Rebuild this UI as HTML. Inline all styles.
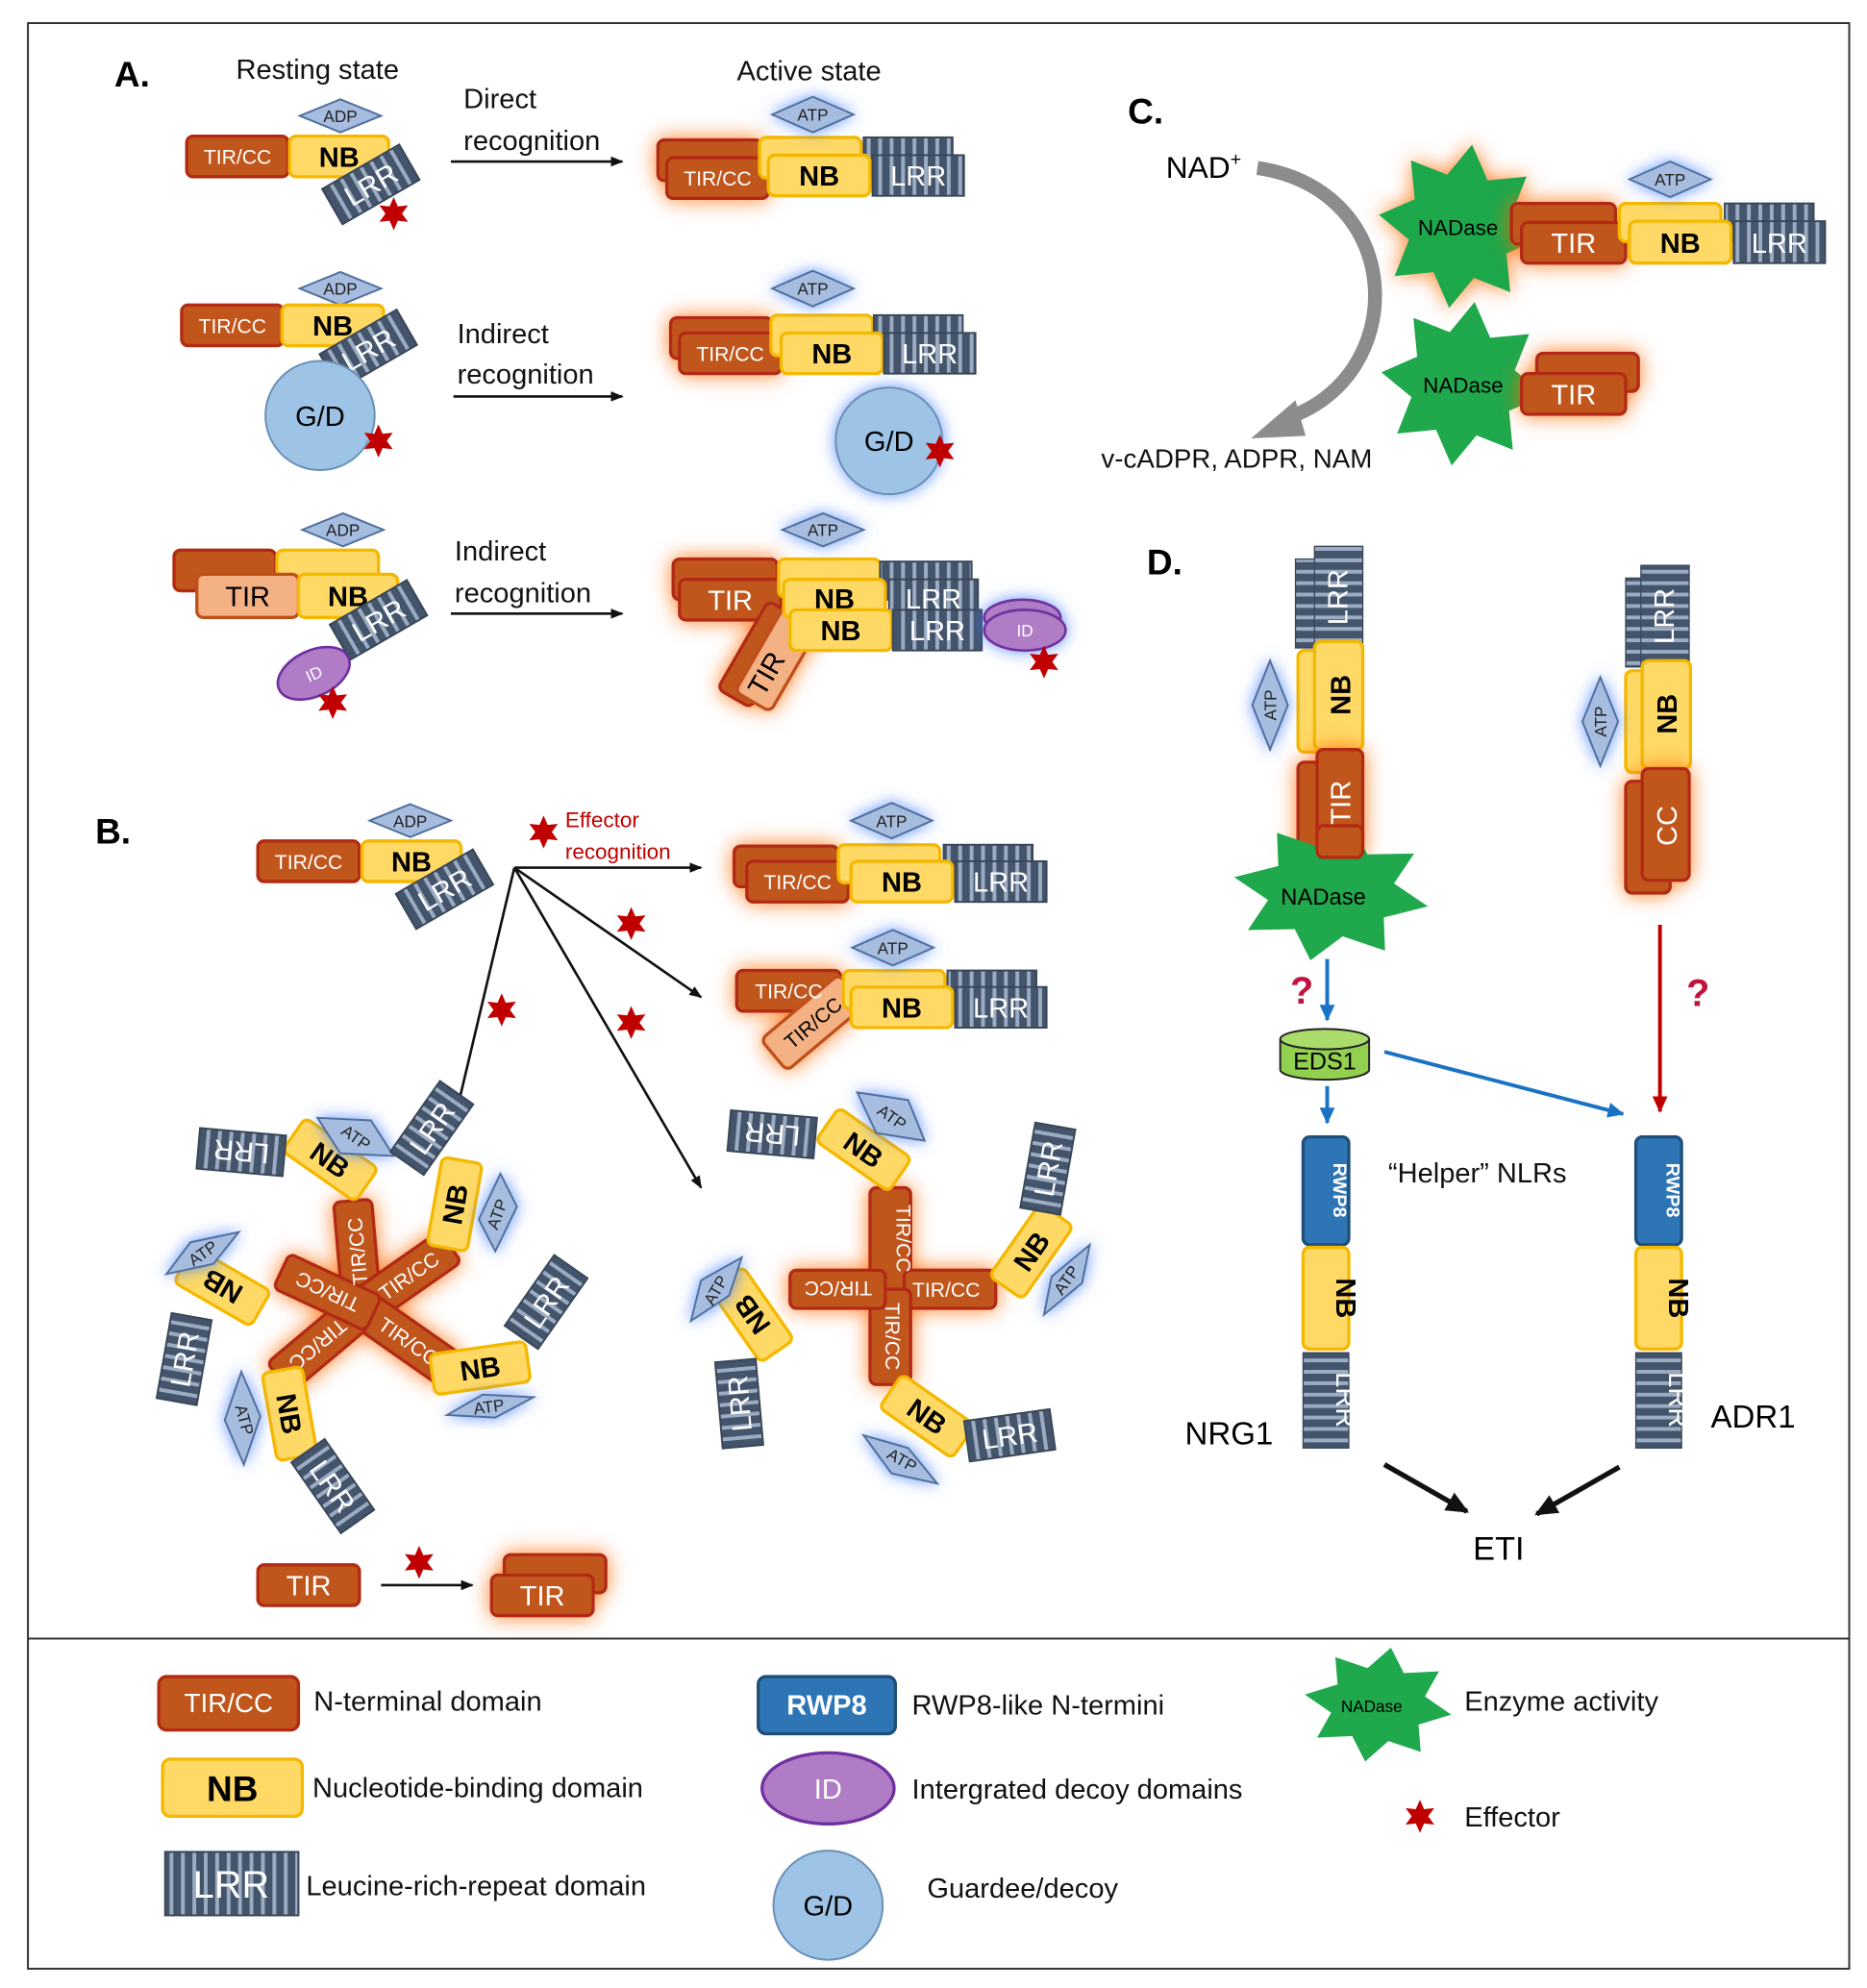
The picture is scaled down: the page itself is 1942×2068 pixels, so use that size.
<!DOCTYPE html>
<html><head><meta charset="utf-8">
<style>
html,body{margin:0;padding:0;background:#fff}
svg{display:block}
text{font-family:"Liberation Sans",sans-serif}
.lb{font-size:22px;fill:#111}
.tc{fill:#c0561c;stroke:#b22a12;stroke-width:2.5}
.tl{fill:#f4b183;stroke:#c0501a;stroke-width:2.5}
.nb{fill:#ffd966;stroke:#f5b800;stroke-width:2.5}
.lrr{fill:url(#lrr);stroke:#3a4658;stroke-width:1.5}
.dm{fill:#a7bde0;stroke:#4f6f9f;stroke-width:1.5}
.rw{fill:#2e75b6;stroke:#1f4e79;stroke-width:2.5}
.tw{fill:#fff;font-size:16px;text-anchor:middle}
.tb{fill:#000;font-size:22px;font-weight:bold;text-anchor:middle}
.tl2{fill:#fff;font-size:22px;text-anchor:middle}
.ts{fill:#222;font-size:13px;text-anchor:middle}
.ar{stroke:#111;stroke-width:2;fill:none;marker-end:url(#ah)}
</style></head>
<body>
<svg width="1942" height="2068" viewBox="0 0 1470 1565" xmlns="http://www.w3.org/2000/svg">
<defs>
<pattern id="lrr" patternUnits="userSpaceOnUse" width="9" height="9">
<rect width="9" height="9" fill="#9aabc2"/><rect x="1.5" width="6" height="9" fill="#44546a"/>
</pattern>
<pattern id="lrrh" patternUnits="userSpaceOnUse" width="9" height="9">
<rect width="9" height="9" fill="#9aabc2"/><rect y="1.5" width="9" height="6" fill="#44546a"/>
</pattern>
<filter id="go" x="-50%" y="-50%" width="200%" height="200%"><feDropShadow dx="0" dy="0" stdDeviation="8" flood-color="#ff6a00" flood-opacity="0.85"/></filter>
<filter id="bl" x="-50%" y="-50%" width="200%" height="200%"><feDropShadow dx="0" dy="0" stdDeviation="6" flood-color="#3d7bff" flood-opacity="0.8"/></filter>
<marker id="ah" markerWidth="10" markerHeight="8" refX="9" refY="4" orient="auto" markerUnits="userSpaceOnUse"><path d="M0,0 L10,4 L0,8 z" fill="#111"/></marker>
<marker id="ahb" markerWidth="14" markerHeight="12" refX="12" refY="6" orient="auto" markerUnits="userSpaceOnUse"><path d="M0,0 L13,6 L0,12 z" fill="#1a72c4"/></marker>
<marker id="ahr" markerWidth="14" markerHeight="12" refX="12" refY="6" orient="auto" markerUnits="userSpaceOnUse"><path d="M0,0 L13,6 L0,12 z" fill="#c00000"/></marker>
<marker id="ahk" markerWidth="20" markerHeight="16" refX="16" refY="8" orient="auto" markerUnits="userSpaceOnUse"><path d="M0,0 L18,8 L0,16 z" fill="#111"/></marker>
<path id="st" d="M0,-13 L3.25,-5.63 L11.26,-6.5 L6.5,0 L11.26,6.5 L3.25,5.63 L0,13 L-3.25,5.63 L-11.26,6.5 L-6.5,0 L-11.26,-6.5 L-3.25,-5.63 z" fill="#c00000"/>
<path id="nad" d="M65,0 L38.8,16.1 L46,46 L16.1,38.8 L0,65 L-16.1,38.8 L-46,46 L-38.8,16.1 L-65,0 L-38.8,-16.1 L-46,-46 L-16.1,-38.8 L0,-65 L16.1,-38.8 L46,-46 L38.8,-16.1 z" fill="#1fa84c"/>
</defs>
<rect width="1470" height="1565" fill="#fff"/>
<rect x="22" y="18" width="1434" height="1532" fill="none" stroke="#333" stroke-width="1.5"/>
<line x1="22" y1="1290" x2="1456" y2="1290" stroke="#333" stroke-width="1.5"/>

<!-- Panel A -->
<text x="90" y="68" font-size="28" font-weight="bold">A.</text>
<text x="250" y="62" class="lb" text-anchor="middle">Resting state</text>
<text x="637" y="63" class="lb" text-anchor="middle">Active state</text>

<polygon class="dm" points="268,78 300,91 268,104 236,91"/><text x="268" y="96" class="ts">ADP</text>
<rect class="tc" x="147" y="107" width="80" height="32" rx="5"/><text x="187" y="129" class="tw">TIR/CC</text>
<rect class="nb" x="228" y="107" width="78" height="32" rx="5"/><text x="267" y="131" class="tb">NB</text>
<g transform="translate(292,145) rotate(-30)"><rect class="lrr" x="-35" y="-16" width="70" height="32"/><text x="0" y="8" class="tl2">LRR</text></g>
<use href="#st" x="310" y="168"/>
<line class="ar" x1="355" y1="127" x2="490" y2="127"/>
<text x="365" y="85" class="lb">Direct</text><text x="365" y="118" class="lb">recognition</text>
<g filter="url(#go)"><rect class="tc" x="518" y="110" width="82" height="32" rx="5"/><rect class="tc" x="525" y="124" width="80" height="32" rx="5"/></g>
<rect class="nb" x="598" y="108" width="80" height="32" rx="5"/><rect class="lrr" x="680" y="108" width="70" height="32"/>
<text x="565" y="146" class="tw">TIR/CC</text>
<rect class="nb" x="605" y="122" width="80" height="32" rx="5"/><text x="645" y="146" class="tb">NB</text>
<rect class="lrr" x="687" y="122" width="72" height="32"/><text x="723" y="146" class="tl2">LRR</text>
<g filter="url(#bl)"><polygon class="dm" points="640,76 672,90 640,104 608,90"/></g><text x="640" y="95" class="ts">ATP</text>

<polygon class="dm" points="268,214 300,227 268,240 236,227"/><text x="268" y="232" class="ts">ADP</text>
<rect class="tc" x="143" y="240" width="80" height="32" rx="5"/><text x="183" y="262" class="tw">TIR/CC</text>
<rect class="nb" x="222" y="240" width="80" height="32" rx="5"/><text x="262" y="264" class="tb">NB</text>
<g transform="translate(290,275) rotate(-30)"><rect class="lrr" x="-35" y="-16" width="70" height="32"/><text x="0" y="8" class="tl2">LRR</text></g>
<circle cx="252" cy="327" r="43" fill="#9dc3e6" stroke="#6b8fb5" stroke-width="1.5"/><text x="252" y="335" font-size="22" text-anchor="middle">G/D</text>
<use href="#st" x="298" y="347"/>
<line class="ar" x1="357" y1="312" x2="490" y2="312"/>
<text x="360" y="270" class="lb">Indirect</text><text x="360" y="302" class="lb">recognition</text>
<g filter="url(#go)"><rect class="tc" x="528" y="250" width="80" height="32" rx="5"/><rect class="tc" x="535" y="262" width="80" height="32" rx="5"/></g>
<rect class="nb" x="607" y="248" width="80" height="32" rx="5"/><rect class="lrr" x="688" y="248" width="70" height="32"/>
<text x="575" y="284" class="tw">TIR/CC</text>
<rect class="nb" x="615" y="262" width="80" height="32" rx="5"/><text x="655" y="286" class="tb">NB</text>
<rect class="lrr" x="696" y="262" width="72" height="32"/><text x="732" y="286" class="tl2">LRR</text>
<g filter="url(#bl)"><polygon class="dm" points="640,213 672,227 640,241 608,227"/></g><text x="640" y="232" class="ts">ATP</text>
<g filter="url(#bl)"><circle cx="700" cy="347" r="42" fill="#9dc3e6" stroke="#6b8fb5" stroke-width="1.5"/></g><text x="700" y="355" font-size="22" text-anchor="middle">G/D</text>
<use href="#st" x="740" y="355"/>

<polygon class="dm" points="270,404 302,417 270,430 238,417"/><text x="270" y="422" class="ts">ADP</text>
<rect class="tc" x="137" y="433" width="80" height="32" rx="5"/><rect class="nb" x="218" y="433" width="80" height="32" rx="5"/>
<rect class="tl" x="155" y="452" width="80" height="34" rx="5"/><text x="195" y="477" class="tb" style="font-weight:normal">TIR</text>
<rect class="nb" x="235" y="452" width="78" height="34" rx="5"/><text x="274" y="477" class="tb">NB</text>
<g transform="translate(298,488) rotate(-30)"><rect class="lrr" x="-35" y="-16" width="70" height="32"/><text x="0" y="8" class="tl2">LRR</text></g>
<g transform="translate(247,530) rotate(-25)"><ellipse rx="30" ry="18" fill="#b07cc6" stroke="#7030a0" stroke-width="2"/><text y="5" class="ts" style="fill:#fff">ID</text></g>
<use href="#st" x="262" y="553"/>
<line class="ar" x1="355" y1="483" x2="490" y2="483"/>
<text x="358" y="441" class="lb">Indirect</text><text x="358" y="474" class="lb">recognition</text>
<g filter="url(#go)"><rect class="tc" x="530" y="440" width="82" height="32" rx="5"/><rect class="tc" x="535" y="456" width="80" height="32" rx="5"/>
<g transform="translate(598,515) rotate(-60)"><rect class="tc" x="-40" y="-15" width="80" height="30" rx="5"/><rect class="tl" x="-35" y="-2" width="80" height="32" rx="5"/></g></g>
<text x="575" y="480" class="tb" style="fill:#fff;font-weight:normal">TIR</text>
<g transform="translate(603,530) rotate(-60)"><text x="0" y="8" class="tb" style="font-weight:normal">TIR</text></g>
<rect class="nb" x="613" y="440" width="80" height="30" rx="5"/><rect class="lrr" x="693" y="442" width="72" height="30"/>
<rect class="nb" x="617" y="456" width="80" height="30" rx="5"/><text x="657" y="479" class="tb">NB</text>
<rect class="lrr" x="700" y="456" width="70" height="30"/><text x="735" y="479" class="tl2">LRR</text>
<rect class="nb" x="622" y="480" width="80" height="32" rx="5"/><text x="662" y="504" class="tb">NB</text>
<rect class="lrr" x="703" y="480" width="70" height="32"/><text x="738" y="504" class="tl2">LRR</text>
<g filter="url(#bl)"><ellipse cx="805" cy="486" rx="30" ry="14" fill="#b07cc6" stroke="#7030a0" stroke-width="2"/><ellipse cx="807" cy="496" rx="32" ry="16" fill="#b07cc6" stroke="#7030a0" stroke-width="2"/></g><text x="807" y="501" class="ts" style="fill:#fff">ID</text>
<use href="#st" x="822" y="521"/>
<g filter="url(#bl)"><polygon class="dm" points="648,404 680,417 648,430 616,417"/></g><text x="648" y="422" class="ts">ATP</text>

<!-- Panel B -->
<text x="75" y="664" font-size="28" font-weight="bold">B.</text>
<polygon class="dm" points="323,633 355,646 323,659 291,646"/><text x="323" y="651" class="ts">ADP</text>
<rect class="tc" x="203" y="662" width="80" height="32" rx="5"/><text x="243" y="684" class="tw">TIR/CC</text>
<rect class="nb" x="285" y="662" width="78" height="32" rx="5"/><text x="324" y="686" class="tb">NB</text>
<g transform="translate(350,700) rotate(-30)"><rect class="lrr" x="-35" y="-16" width="70" height="32"/><text x="0" y="8" class="tl2">LRR</text></g>
<use href="#st" x="428" y="655"/>
<text x="445" y="651" font-size="17" fill="#c00000">Effector</text><text x="445" y="676" font-size="17" fill="#c00000">recognition</text>
<line class="ar" x1="405" y1="683" x2="552" y2="683"/>
<line class="ar" x1="405" y1="683" x2="552" y2="785"/>
<line class="ar" x1="405" y1="683" x2="552" y2="935"/>
<line class="ar" x1="405" y1="683" x2="360" y2="873"/>
<use href="#st" x="497" y="727"/><use href="#st" x="497" y="805"/><use href="#st" x="395" y="795"/>
<g filter="url(#go)"><rect class="tc" x="578" y="666" width="82" height="32" rx="5"/><rect class="tc" x="588" y="678" width="80" height="32" rx="5"/></g>
<rect class="nb" x="660" y="665" width="80" height="30" rx="5"/><rect class="lrr" x="743" y="665" width="70" height="30"/>
<text x="628" y="700" class="tw">TIR/CC</text>
<rect class="nb" x="670" y="678" width="80" height="32" rx="5"/><text x="710" y="702" class="tb">NB</text>
<rect class="lrr" x="752" y="678" width="72" height="32"/><text x="788" y="702" class="tl2">LRR</text>
<g filter="url(#bl)"><polygon class="dm" points="702,632 734,646 702,660 670,646"/></g><text x="702" y="651" class="ts">ATP</text>
<g filter="url(#go)"><rect class="tc" x="580" y="764" width="82" height="32" rx="5"/>
<g transform="translate(640,805) rotate(-40)"><rect class="tl" x="-40" y="-16" width="80" height="32" rx="5"/></g></g>
<text x="621" y="786" class="tw">TIR/CC</text>
<g transform="translate(640,805) rotate(-40)"><text y="6" font-size="16" text-anchor="middle" fill="#000">TIR/CC</text></g>
<rect class="nb" x="664" y="764" width="80" height="30" rx="5"/><rect class="lrr" x="746" y="764" width="70" height="30"/>
<rect class="nb" x="670" y="777" width="80" height="32" rx="5"/><text x="710" y="801" class="tb">NB</text>
<rect class="lrr" x="752" y="777" width="72" height="32"/><text x="788" y="801" class="tl2">LRR</text>
<g filter="url(#bl)"><polygon class="dm" points="703,732 735,746 703,760 671,746"/></g><text x="703" y="751" class="ts">ATP</text>

<!-- left flower -->
<g filter="url(#go)">
<g transform="translate(285,1030) rotate(-95)"><rect class="tc" x="5" y="-15" width="80" height="30" rx="5"/></g>
<g transform="translate(285,1030) rotate(-35)"><rect class="tc" x="5" y="-15" width="80" height="30" rx="5"/></g>
<g transform="translate(285,1030) rotate(35)"><rect class="tc" x="5" y="-15" width="80" height="30" rx="5"/></g>
<g transform="translate(285,1030) rotate(140)"><rect class="tc" x="5" y="-15" width="80" height="30" rx="5"/></g>
<g transform="translate(285,1030) rotate(205)"><rect class="tc" x="-10" y="-15" width="80" height="30" rx="5"/></g>
</g>
<g transform="translate(285,1030) rotate(-95)"><text x="45" y="6" class="tw">TIR/CC</text></g>
<g transform="translate(285,1030) rotate(-35)"><text x="45" y="6" class="tw">TIR/CC</text></g>
<g transform="translate(285,1030) rotate(35)"><text x="45" y="6" class="tw">TIR/CC</text></g>
<g transform="translate(285,1030) rotate(140)"><text x="45" y="6" class="tw">TIR/CC</text></g>
<g transform="translate(285,1030) rotate(205)"><text x="30" y="6" class="tw">TIR/CC</text></g>
<g transform="translate(260,913) rotate(35)"><rect class="nb" x="-35" y="-16" width="70" height="32" rx="5"/><text y="8" class="tb">NB</text></g>
<g transform="translate(190,907) rotate(185)"><rect class="lrr" x="-34" y="-16" width="68" height="32"/><text y="8" class="tl2">LRR</text></g>
<g filter="url(#bl)"><polygon class="dm" points="250,880 292,882 310,910 268,908"/></g><text x="280" y="900" class="ts" transform="rotate(35 280 896)">ATP</text>
<g transform="translate(358,948) rotate(-80)"><rect class="nb" x="-35" y="-16" width="70" height="32" rx="5"/><text y="8" class="tb">NB</text></g>
<g transform="translate(340,888) rotate(-55)"><rect class="lrr" x="-34" y="-16" width="68" height="32"/><text y="8" class="tl2">LRR</text></g>
<g filter="url(#bl)"><polygon class="dm" points="394,924 407,950 390,985 377,960"/></g><text x="392" y="960" class="ts" transform="rotate(-70 392 956)">ATP</text>
<g transform="translate(175,1013) rotate(-150)"><rect class="nb" x="-35" y="-16" width="70" height="32" rx="5"/><text y="8" class="tb">NB</text></g>
<g transform="translate(145,1070) rotate(-80)"><rect class="lrr" x="-34" y="-16" width="68" height="32"/><text y="8" class="tl2">LRR</text></g>
<g filter="url(#bl)"><polygon class="dm" points="131,1003 150,978 188,970 168,995"/></g><text x="160" y="991" class="ts" transform="rotate(-35 160 987)">ATP</text>
<g transform="translate(378,1077) rotate(-8)"><rect class="nb" x="-38" y="-16" width="76" height="32" rx="5"/><text y="8" class="tb">NB</text></g>
<g transform="translate(430,1025) rotate(-55)"><rect class="lrr" x="-34" y="-16" width="68" height="32"/><text y="8" class="tl2">LRR</text></g>
<g filter="url(#bl)"><polygon class="dm" points="352,1114 380,1098 420,1100 390,1116"/></g><text x="385" y="1112" class="ts" transform="rotate(-8 385 1108)">ATP</text>
<g transform="translate(228,1113) rotate(80)"><rect class="nb" x="-35" y="-16" width="70" height="32" rx="5"/><text y="8" class="tb">NB</text></g>
<g transform="translate(262,1170) rotate(55)"><rect class="lrr" x="-34" y="-16" width="68" height="32"/><text y="8" class="tl2">LRR</text></g>
<g filter="url(#bl)"><polygon class="dm" points="190,1080 205,1115 192,1153 177,1118"/></g><text x="192" y="1122" class="ts" transform="rotate(75 192 1118)">ATP</text>

<!-- right cross -->
<g filter="url(#go)">
<rect class="tc" x="685" y="935" width="32" height="80" rx="5"/>
<rect class="tc" x="712" y="1000" width="72" height="30" rx="5"/>
<rect class="tc" x="685" y="1015" width="32" height="75" rx="5"/>
<rect class="tc" x="622" y="1000" width="75" height="30" rx="5"/>
</g>
<text transform="translate(706,975) rotate(90)" class="tw">TIR/CC</text>
<text x="745" y="1021" class="tw">TIR/CC</text>
<text transform="translate(697,1052) rotate(90)" class="tw">TIR/CC</text>
<text transform="translate(660,1009) rotate(180)" class="tw">TIR/CC</text>
<g transform="translate(680,905) rotate(35)"><rect class="nb" x="-35" y="-16" width="70" height="32" rx="5"/><text y="8" class="tb">NB</text></g>
<g transform="translate(608,893) rotate(185)"><rect class="lrr" x="-34" y="-16" width="68" height="32"/><text y="8" class="tl2">LRR</text></g>
<g filter="url(#bl)"><polygon class="dm" points="675,860 715,866 728,898 690,892"/></g><text x="702" y="884" class="ts" transform="rotate(35 702 880)">ATP</text>
<g transform="translate(812,985) rotate(-55)"><rect class="nb" x="-35" y="-16" width="70" height="32" rx="5"/><text y="8" class="tb">NB</text></g>
<g transform="translate(825,920) rotate(-80)"><rect class="lrr" x="-34" y="-16" width="68" height="32"/><text y="8" class="tl2">LRR</text></g>
<g filter="url(#bl)"><polygon class="dm" points="858,980 852,1010 822,1035 828,1005"/></g><text x="840" y="1012" class="ts" transform="rotate(-55 840 1008)">ATP</text>
<g transform="translate(592,1035) rotate(-125)"><rect class="nb" x="-35" y="-16" width="70" height="32" rx="5"/><text y="8" class="tb">NB</text></g>
<g transform="translate(582,1105) rotate(-95)"><rect class="lrr" x="-34" y="-16" width="68" height="32"/><text y="8" class="tl2">LRR</text></g>
<g filter="url(#bl)"><polygon class="dm" points="544,1040 552,1008 584,990 574,1020"/></g><text x="564" y="1020" class="ts" transform="rotate(-60 564 1016)">ATP</text>
<g transform="translate(730,1115) rotate(35)"><rect class="nb" x="-35" y="-16" width="70" height="32" rx="5"/><text y="8" class="tb">NB</text></g>
<g transform="translate(795,1130) rotate(-8)"><rect class="lrr" x="-34" y="-16" width="68" height="32"/><text y="8" class="tl2">LRR</text></g>
<g filter="url(#bl)"><polygon class="dm" points="680,1130 715,1140 738,1168 702,1160"/></g><text x="710" y="1154" class="ts" transform="rotate(30 710 1150)">ATP</text>

<rect class="tc" x="203" y="1232" width="80" height="32" rx="5"/><text x="243" y="1256" class="tl2">TIR</text>
<use href="#st" x="330" y="1230"/>
<line class="ar" x1="300" y1="1248" x2="372" y2="1248"/>
<g filter="url(#go)"><rect class="tc" x="397" y="1224" width="80" height="30" rx="5"/><rect class="tc" x="387" y="1240" width="80" height="32" rx="5"/></g>
<text x="427" y="1264" class="tl2">TIR</text>

<!-- Panel C -->
<text x="888" y="97" font-size="28" font-weight="bold">C.</text>
<text x="918" y="140" font-size="24">NAD<tspan font-size="15" dy="-10">+</tspan></text>
<path d="M990,132 C1110,150 1110,300 1010,330" stroke="#8c8c8c" stroke-width="11" fill="none"/>
<polygon points="985,345 1020,315 1028,343" fill="#8c8c8c"/>
<text x="867" y="368" class="lb" style="font-size:21px">v-cADPR, ADPR, NAM</text>
<g filter="url(#go)"><use href="#nad" transform="translate(1150,178) rotate(8)"/></g>
<text x="1148" y="185" font-size="17" text-anchor="middle">NADase</text>
<g filter="url(#go)"><rect class="tc" x="1190" y="160" width="82" height="32" rx="5"/><rect class="tc" x="1198" y="175" width="82" height="32" rx="5"/></g>
<rect class="nb" x="1275" y="160" width="80" height="30" rx="5"/><rect class="lrr" x="1358" y="160" width="70" height="30"/>
<text x="1239" y="199" class="tl2">TIR</text>
<rect class="nb" x="1283" y="174" width="80" height="33" rx="5"/><text x="1323" y="199" class="tb">NB</text>
<rect class="lrr" x="1365" y="174" width="72" height="33"/><text x="1401" y="199" class="tl2">LRR</text>
<g filter="url(#bl)"><polygon class="dm" points="1315,127 1347,141 1315,155 1283,141"/></g><text x="1315" y="146" class="ts">ATP</text>
<use href="#nad" transform="translate(1152,302) rotate(8)"/>
<text x="1152" y="309" font-size="17" text-anchor="middle">NADase</text>
<g filter="url(#go)"><rect class="tc" x="1210" y="278" width="80" height="30" rx="5"/><rect class="tc" x="1198" y="294" width="82" height="32" rx="5"/></g>
<text x="1239" y="318" class="tl2">TIR</text>

<!-- Panel D -->
<text x="903" y="452" font-size="28" font-weight="bold">D.</text>
<rect x="1020" y="440" width="32" height="70" fill="url(#lrrh)" stroke="#3a4658"/>
<rect x="1035" y="430" width="38" height="78" fill="url(#lrrh)" stroke="#3a4658"/>
<text transform="translate(1061,470) rotate(-90)" class="tl2">LRR</text>
<rect class="nb" x="1022" y="512" width="30" height="80" rx="5"/>
<rect class="nb" x="1035" y="505" width="38" height="85" rx="5"/><text transform="translate(1063,547) rotate(-90)" class="tb">NB</text>
<g filter="url(#bl)"><polygon class="dm" points="1000,520 1014,555 1000,590 986,555"/></g><text transform="translate(1005,555) rotate(-90)" class="ts">ATP</text>
<g filter="url(#go)"><rect class="tc" x="1022" y="600" width="35" height="85" rx="5"/><rect class="tc" x="1037" y="590" width="36" height="85" rx="5"/></g>
<text transform="translate(1063,632) rotate(-90)" class="tl2">TIR</text>
<use href="#nad" transform="translate(1048,702) scale(1.2,0.85) rotate(12)"/>
<rect class="tc" x="1037" y="650" width="36" height="25" rx="5"/>
<text x="1042" y="712" font-size="18" text-anchor="middle">NADase</text>
<rect x="1280" y="455" width="32" height="70" fill="url(#lrrh)" stroke="#3a4658"/>
<rect x="1292" y="445" width="38" height="78" fill="url(#lrrh)" stroke="#3a4658"/>
<text transform="translate(1318,485) rotate(-90)" class="tl2">LRR</text>
<rect class="nb" x="1280" y="528" width="30" height="80" rx="5"/>
<rect class="nb" x="1293" y="520" width="38" height="85" rx="5"/><text transform="translate(1320,562) rotate(-90)" class="tb">NB</text>
<g filter="url(#bl)"><polygon class="dm" points="1260,533 1274,568 1260,603 1246,568"/></g><text transform="translate(1265,568) rotate(-90)" class="ts">ATP</text>
<g filter="url(#go)"><rect class="tc" x="1280" y="615" width="35" height="88" rx="5"/><rect class="tc" x="1293" y="605" width="37" height="88" rx="5"/></g>
<text transform="translate(1320,650) rotate(-90)" class="tl2">CC</text>
<text x="1025" y="790" font-size="30" font-weight="bold" fill="#c0143c" text-anchor="middle">?</text>
<text x="1337" y="792" font-size="30" font-weight="bold" fill="#c0143c" text-anchor="middle">?</text>
<line x1="1045" y1="755" x2="1045" y2="803" stroke="#1a72c4" stroke-width="3" marker-end="url(#ahb)"/>
<line x1="1307" y1="728" x2="1307" y2="875" stroke="#c00000" stroke-width="3" marker-end="url(#ahr)"/>
<path d="M1008,818 L1008,842 A35,8 0 0 0 1078,842 L1078,818" fill="#92d050" stroke="#222" stroke-width="1.5"/>
<ellipse cx="1043" cy="818" rx="35" ry="8" fill="#a9dc6a" stroke="#222" stroke-width="1.5"/>
<text x="1043" y="842" font-size="19" text-anchor="middle">EDS1</text>
<line x1="1045" y1="855" x2="1045" y2="884" stroke="#1a72c4" stroke-width="3" marker-end="url(#ahb)"/>
<line x1="1090" y1="828" x2="1278" y2="877" stroke="#1a72c4" stroke-width="3" marker-end="url(#ahb)"/>
<rect class="rw" x="1026" y="895" width="36" height="85" rx="5"/><text transform="translate(1050,937) rotate(90)" font-size="15" font-weight="bold" fill="#fff" text-anchor="middle">RWP8</text>
<rect class="nb" x="1026" y="982" width="36" height="80" rx="5"/><text transform="translate(1052,1022) rotate(90)" class="tb">NB</text>
<rect x="1026" y="1065" width="36" height="75" fill="url(#lrrh)" stroke="#3a4658"/><text transform="translate(1052,1102) rotate(90)" class="tl2">LRR</text>
<rect class="rw" x="1288" y="895" width="36" height="85" rx="5"/><text transform="translate(1312,937) rotate(90)" font-size="15" font-weight="bold" fill="#fff" text-anchor="middle">RWP8</text>
<rect class="nb" x="1288" y="982" width="36" height="80" rx="5"/><text transform="translate(1314,1022) rotate(90)" class="tb">NB</text>
<rect x="1288" y="1065" width="36" height="75" fill="url(#lrrh)" stroke="#3a4658"/><text transform="translate(1314,1102) rotate(90)" class="tl2">LRR</text>
<text x="1093" y="931" class="lb">“Helper” NLRs</text>
<text x="933" y="1137" font-size="25">NRG1</text>
<text x="1347" y="1124" font-size="25">ADR1</text>
<line x1="1090" y1="1153" x2="1155" y2="1190" stroke="#111" stroke-width="4" marker-end="url(#ahk)"/>
<line x1="1275" y1="1155" x2="1210" y2="1192" stroke="#111" stroke-width="4" marker-end="url(#ahk)"/>
<text x="1180" y="1228" font-size="26" text-anchor="middle">ETI</text>

<!-- Legend -->
<rect class="tc" x="125" y="1320" width="110" height="42" rx="6"/><text x="180" y="1348" class="tw" style="font-size:21px">TIR/CC</text>
<text x="247" y="1347" class="lb">N-terminal domain</text>
<rect class="nb" x="128" y="1385" width="110" height="45" rx="6"/><text x="183" y="1418" class="tb" style="font-size:28px">NB</text>
<text x="246" y="1415" class="lb">Nucleotide-binding domain</text>
<rect class="lrr" x="130" y="1458" width="105" height="50"/><text x="182" y="1494" class="tl2" style="font-size:30px">LRR</text>
<text x="241" y="1492" class="lb">Leucine-rich-repeat domain</text>
<rect class="rw" x="597" y="1320" width="108" height="45" rx="6"/><text x="651" y="1350" font-size="22" font-weight="bold" fill="#fff" text-anchor="middle">RWP8</text>
<text x="718" y="1350" class="lb">RWP8-like N-termini</text>
<ellipse cx="652" cy="1408" rx="52" ry="28" fill="#b07cc6" stroke="#7030a0" stroke-width="2.5"/><text x="652" y="1416" font-size="22" fill="#fff" text-anchor="middle">ID</text>
<text x="718" y="1416" class="lb">Intergrated decoy domains</text>
<circle cx="652" cy="1500" r="43" fill="#9dc3e6" stroke="#6b8fb5" stroke-width="1.5"/><text x="652" y="1508" font-size="22" text-anchor="middle">G/D</text>
<text x="730" y="1494" class="lb">Guardee/decoy</text>
<use href="#nad" transform="translate(1085,1342) scale(0.9,0.7) rotate(10)"/>
<text x="1080" y="1348" font-size="13" text-anchor="middle">NADase</text>
<text x="1153" y="1347" class="lb">Enzyme activity</text>
<use href="#st" x="1118" y="1430"/>
<text x="1153" y="1438" class="lb">Effector</text>
</svg>
</body></html>
